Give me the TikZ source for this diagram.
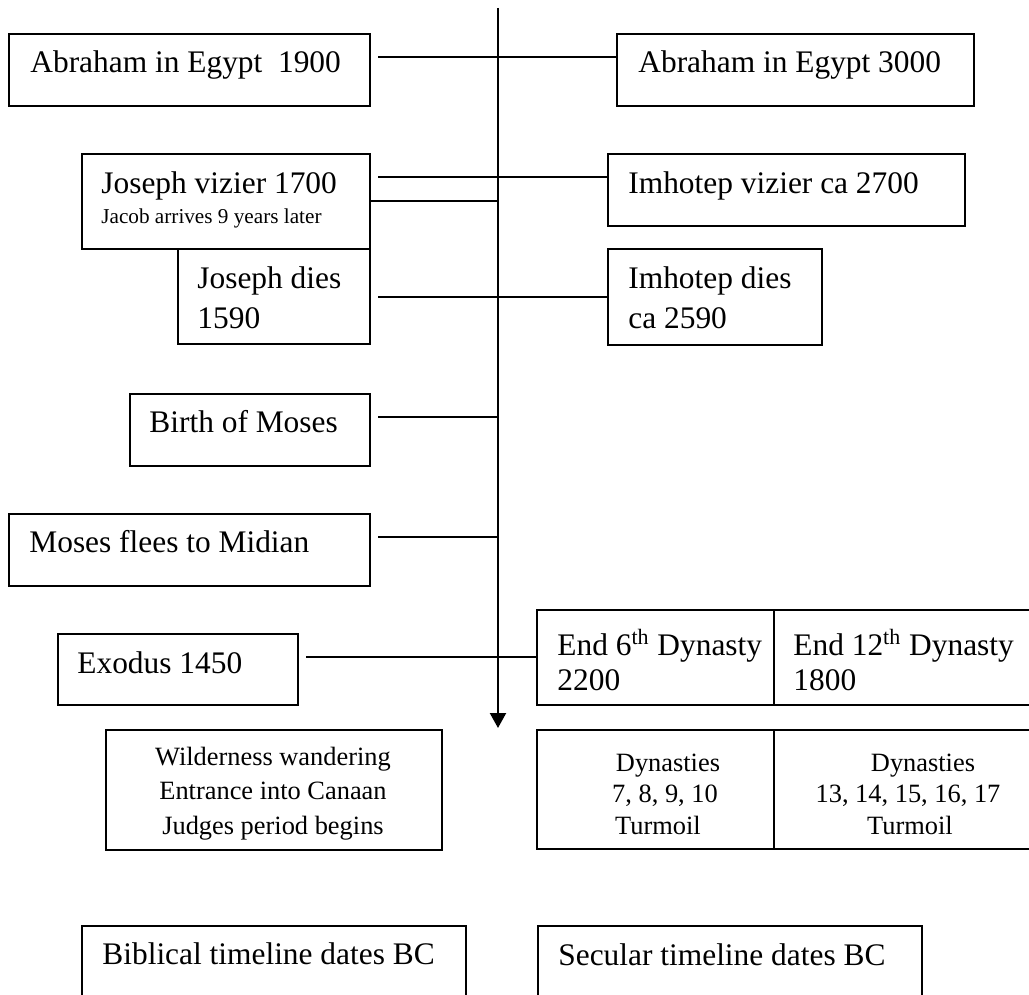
\documentclass[tikz,border=0pt]{standalone}
\usepackage{fontspec}
\setmainfont{Liberation Serif}
\usetikzlibrary{arrows.meta}
\begin{document}
\begin{tikzpicture}[x=0.5pt,y=-0.5pt,
  box/.style={draw, line width=1.1pt, inner sep=0pt, anchor=north west},
  conn/.style={line width=1.1pt},
  big/.style={font=\fontsize{15.7}{18}\selectfont, inner sep=0pt, anchor=base west},
  midc/.style={font=\fontsize{13.2}{15}\selectfont, inner sep=0pt, anchor=base},
  small/.style={font=\fontsize{10.6}{12}\selectfont, inner sep=0pt, anchor=base west}]
\useasboundingbox (0,0) rectangle (1029,995);
\clip (0,0) rectangle (1029,995);

% boxes
\node[box, minimum width=180.5pt, minimum height=36pt] (a1900) at (8,33) {};
\node[box, minimum width=178.5pt, minimum height=36pt] (a3000) at (616,33) {};
\node[box, minimum width=144pt, minimum height=47.5pt] (jviz) at (81,153) {};
\node[box, minimum width=178.5pt, minimum height=36pt] (iviz) at (607,153) {};
\node[box, minimum width=96pt, minimum height=47.5pt] (jdies) at (177,248) {};
\node[box, minimum width=107pt, minimum height=48pt] (idies) at (607,248) {};
\node[box, minimum width=120pt, minimum height=36pt] (moses) at (129,393) {};
\node[box, minimum width=180.5pt, minimum height=36pt] (flees) at (8,513) {};
\node[box, minimum width=120pt, minimum height=35.5pt] (exodus) at (57,633) {};
\node[box, minimum width=118.5pt, minimum height=47.5pt] (end6) at (536,609) {};
\node[box, minimum width=135pt, minimum height=47.5pt] (end12) at (773,609) {};
\node[box, minimum width=168pt, minimum height=60pt] (wild) at (105,729) {};
\node[box, minimum width=118.5pt, minimum height=59.5pt] (dyn1) at (536,729) {};
\node[box, minimum width=135pt, minimum height=59.5pt] (dyn2) at (773,729) {};
\node[box, minimum width=192pt, minimum height=50pt] (bib) at (81,925) {};
\node[box, minimum width=192pt, minimum height=50pt] (sec) at (537,925) {};

% texts
\node[big] (t1) at (30,73) {Abraham in Egypt\ \ 1900};
\node[big] (t2) at (638,73) {Abraham in Egypt 3000};
\node[big] (t3) at (101,193) {Joseph vizier 1700};
\node[small] (t4) at (101,223) {Jacob arrives 9 years later};
\node[big] (t5) at (628,193) {Imhotep vizier ca 2700};
\node[big] (t6) at (197,288) {Joseph dies};
\node[big] (t7) at (197,328) {1590};
\node[big] (t8) at (628,288) {Imhotep dies};
\node[big] (t9) at (628,328) {ca 2590};
\node[big] (t10) at (149,432) {Birth of Moses};
\node[big] (t11) at (29,552) {Moses flees to Midian};
\node[big] (t12) at (77,673) {Exodus 1450};
\node[big] (t13) at (557,655) {End 6\textsuperscript{th} Dynasty};
\node[big] (t14) at (557,690) {2200};
\node[big] (t15) at (793,655) {End 12\textsuperscript{th} Dynasty};
\node[big] (t16) at (793,690) {1800};
\node[midc] (t17) at (273,765) {Wilderness wandering};
\node[midc] (t18) at (273,799) {Entrance into Canaan};
\node[midc] (t19) at (273,834) {Judges period begins};
\node[midc] (t20) at (668,771) {Dynasties};
\node[midc] (t21) at (665,802) {7, 8, 9, 10};
\node[midc] (t22) at (658,834) {Turmoil};
\node[midc] (t23) at (923,771) {Dynasties};
\node[midc] (t24) at (908,802) {13, 14, 15, 16, 17};
\node[midc] (t25) at (910,834) {Turmoil};
\node[big] (t26) at (102,964) {Biblical timeline dates BC};
\node[big] (t27) at (558,965) {Secular timeline dates BC};

% timeline axis
\coordinate (top) at (498,8);
\coordinate (bot) at (498,728);
\draw[conn,-{Triangle[width=8pt,length=7.5pt]}] (top) -- (bot);

% connectors
\coordinate (s1) at (378,57);
\draw[conn] (s1) -- (s1 -| a3000.west);
\coordinate (s2) at (378,177);
\draw[conn] (s2) -- (s2 -| iviz.west);
\coordinate (e3) at (498,201);
\draw[conn] (jviz.east |- e3) -- (e3);
\coordinate (s4) at (378,297);
\draw[conn] (s4) -- (s4 -| idies.west);
\coordinate (s5) at (378,417);
\draw[conn] (s5) -- (s5 -| top);
\coordinate (s6) at (378,537);
\draw[conn] (s6) -- (s6 -| top);
\coordinate (s7) at (306,657);
\draw[conn] (s7) -- (s7 -| end6.west);
\end{tikzpicture}
\end{document}
